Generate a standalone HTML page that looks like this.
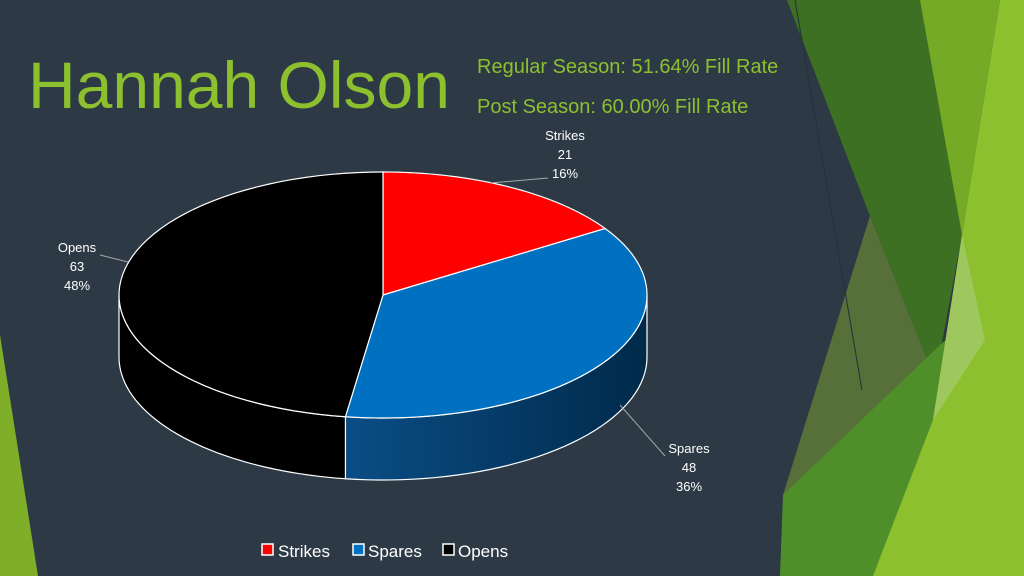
<!DOCTYPE html>
<html><head><meta charset="utf-8"><style>
body{margin:0;width:1024px;height:576px;overflow:hidden;background:#2d3a45;font-family:"Liberation Sans",sans-serif}
svg{position:absolute;left:0;top:0}
</style></head><body>
<svg width="1024" height="576">
<g>
<polygon points="0,335 0,576 38,576" fill="#7fae28"/>
<polygon points="787,0 925,0 962,235 935,380 870,216" fill="#3e7024"/>
<polygon points="870,216 935,380 900,470 783,495" fill="#57703a"/>
<polygon points="920,0 1000,0 962,235" fill="#74aa25"/>
<polygon points="783,495 940,345 1024,270 1024,576 780,576" fill="#4f8f29"/>
<polygon points="1000,0 1024,0 1024,576 873,576 933,420 962,235" fill="#8dc02f"/>
<polygon points="962,235 985,340 933,420" fill="#9ec85e"/>
<line x1="795" y1="0" x2="862" y2="390" stroke="#24303a" stroke-width="1"/>
</g>
<text x="28" y="108" font-size="66" fill="#8dc02f">Hannah Olson</text>
<text x="477" y="73" font-size="20" fill="#8dc02f">Regular Season: 51.64% Fill Rate</text>
<text x="477" y="113" font-size="20" fill="#8dc02f">Post Season: 60.00% Fill Rate</text>
<defs>
<linearGradient id="gsp" x1="0" x2="1" y1="0" y2="0"><stop offset="0" stop-color="#0a4d85"/><stop offset="1" stop-color="#002a4a"/></linearGradient>
</defs>
<g id="pie"></g>
<g>
<rect x="262" y="544" width="11" height="11" fill="#f00" stroke="#fff" stroke-width="1.5"/>
<text x="278" y="557" font-size="17" fill="#fff">Strikes</text>
<rect x="353" y="544" width="11" height="11" fill="#0070c0" stroke="#fff" stroke-width="1.5"/>
<text x="368" y="557" font-size="17" fill="#fff">Spares</text>
<rect x="443" y="544" width="11" height="11" fill="#000" stroke="#fff" stroke-width="1.5"/>
<text x="458" y="557" font-size="17" fill="#fff">Opens</text>
</g>
</svg>
<script>
const categories=["Strikes","Spares","Opens"];
const values=[21,48,63];
const colors=["#ff0000","#0070c0","#000000"];
const sideColors=["#a00000","url(#gsp)","#000000"];
const cx=383,cy=295,rx=264,ry=123,depth=62;
const NS="http://www.w3.org/2000/svg";
const g=document.getElementById('pie');
const total=values.reduce((a,b)=>a+b,0);
function pt(a,d){return [cx+rx*Math.sin(a),cy-ry*Math.cos(a)+(d||0)];}
let angles=[0];values.forEach(v=>angles.push(angles[angles.length-1]+v/total*2*Math.PI));
// sides (front half: angles PI/2..3PI/2)
for(let i=0;i<values.length;i++){
 const a1=Math.max(angles[i],Math.PI/2),a2=Math.min(angles[i+1],3*Math.PI/2);
 if(a2<=a1)continue;
 let d="";const n=40;
 for(let k=0;k<=n;k++){const p=pt(a1+(a2-a1)*k/n);d+=(k?"L":"M")+p[0]+","+p[1];}
 for(let k=n;k>=0;k--){const p=pt(a1+(a2-a1)*k/n,depth);d+="L"+p[0]+","+p[1];}
 const el=document.createElementNS(NS,'path');
 el.setAttribute('d',d+"Z");el.setAttribute('fill',sideColors[i]);el.setAttribute('stroke','#fff');el.setAttribute('stroke-width','1.2');
 
 
 g.appendChild(el);
}
for(let i=0;i<values.length;i++){
 let d="M"+cx+","+cy;const n=60;
 for(let k=0;k<=n;k++){const p=pt(angles[i]+(angles[i+1]-angles[i])*k/n);d+="L"+p[0]+","+p[1];}
 const el=document.createElementNS(NS,'path');
 el.setAttribute('d',d+"Z");el.setAttribute('fill',colors[i]);el.setAttribute('stroke','#fff');el.setAttribute('stroke-width','1.2');
 
 
 g.appendChild(el);
}
const labelPos=[[565,140,490,183,548,178],[689,453,620,405,665,456],[77,252,128,262,100,255]];
for(let i=0;i<values.length;i++){
 const [lx,ly,ax,ay,bx,by]=labelPos[i];
 const ln=document.createElementNS(NS,'polyline');
 ln.setAttribute('points',ax+","+ay+" "+bx+","+by);ln.setAttribute('stroke','#a6a6a6');ln.setAttribute('fill','none');
 
 
 g.appendChild(ln);
 const lines=[categories[i],String(values[i]),Math.round(values[i]/total*100)+"%"];
 lines.forEach((s,j)=>{
  const t=document.createElementNS(NS,'text');
  t.setAttribute('x',lx);t.setAttribute('y',ly+j*19);t.setAttribute('font-size','13');t.setAttribute('fill','#fff');t.setAttribute('text-anchor','middle');
  t.textContent=s;
  
  
  g.appendChild(t);
 });
}
</script>
</body></html>
